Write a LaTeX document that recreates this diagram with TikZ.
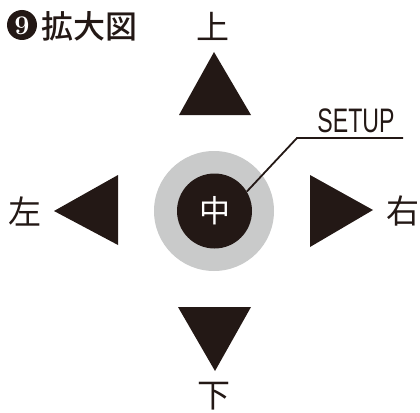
\documentclass[tikz,border=0pt]{standalone}
\usepackage{fontspec}
\newfontfamily\jpfont{Noto Sans CJK JP}
\newfontfamily\jpbold{Noto Sans CJK JP Medium}
\newfontfamily\condfont[FakeStretch=0.68]{Liberation Sans}
\definecolor{ink}{HTML}{231815}
\definecolor{ring}{HTML}{C9CACA}
\tikzset{
  lbl/.style={inner sep=0pt, text=ink, font=\jpfont\fontsize{33}{33}\selectfont},
  arrowtri/.style={fill=ink, draw=none},
}
\begin{document}
\begin{tikzpicture}[x=1pt,y=-1pt]
\useasboundingbox (0,0) rectangle (420,412);
% title
\fill[ink] (22,25) circle (15);
\node[inner sep=0pt, text=white, font=\bfseries\fontsize{27}{27}\selectfont] (nine) at (22,26) {9};
\node[inner sep=0pt, anchor=west, text=ink, font=\jpbold\fontsize{32}{32}\selectfont] (title) at (41,26) {拡大図};
% triangles
\fill[arrowtri] (214,52) -- (251,115) -- (179,115) -- cycle;
\fill[arrowtri] (215,371) -- (251,307) -- (178,307) -- cycle;
\fill[arrowtri] (54,211) -- (118,175) -- (118,245) -- cycle;
\fill[arrowtri] (373,210) -- (310,175) -- (310,247) -- cycle;
% center button
\node[circle, fill=ring, minimum size=120pt, inner sep=0pt] (ringnode) at (214,211) {};
\node[circle, fill=ink, minimum size=75pt, inner sep=0pt, text=white, font=\jpfont\fontsize{31}{31}\selectfont] (center) at (214.5,211) {中};
% labels
\node[lbl] (up) at (213,26) {上};
\node[lbl] (down) at (214,396) {下};
\node[lbl] (left) at (25,211) {左};
\node[lbl] (right) at (403,211) {右};
% setup label
\node[inner sep=0pt, text=ink, font=\condfont\fontsize{34}{34}\selectfont] (setup) at (356,121) {SETUP};
\coordinate (knee) at (297,138);
\coordinate (lineend) at (403,138);
\draw[ink, line width=1.8pt] (center.31) -- (knee) -- (lineend);
\end{tikzpicture}
\end{document}
